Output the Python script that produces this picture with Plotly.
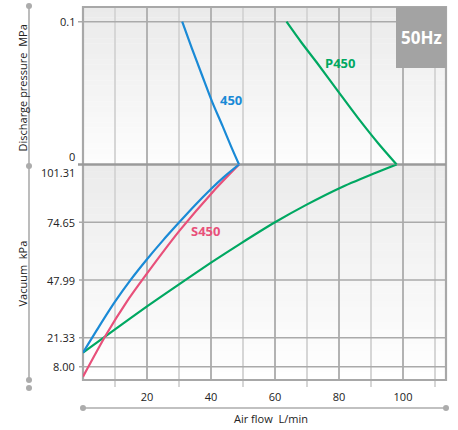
import plotly.graph_objects as go

# ---------------- data ----------------
flow_ticks = [20, 40, 60, 80, 100]
flow_minor = [10, 30, 50, 70, 90, 110]
vac_ticks = [101.31, 74.65, 47.99, 21.33, 8.00]
vac_tick_labels = ["101.31", "74.65", "47.99", "21.33", "8.00"]
pres_ticks = [0.1, 0]
pres_tick_labels = ["0.1", "0"]

# discharge pressure side (MPa)
m450_p_flow = [31.0, 34.0, 37.2, 40.4, 43.6, 46.3, 48.75]
m450_p_pres = [0.1, 0.0815, 0.0625, 0.0437, 0.027, 0.0125, 0.0]
p450_p_flow = [63.6, 68.2, 73.0, 79.9, 86.1, 92.3, 98.0]
p450_p_pres = [0.1, 0.0856, 0.0716, 0.0507, 0.0321, 0.0147, 0.0]

# vacuum side (kPa)
m450_v_flow = [0, 5, 10, 15, 20, 25, 30, 35, 40, 44, 48.75]
m450_v_kpa = [14.5, 26.5, 38, 48.3, 57.6, 66.3, 74.5, 82.5, 90, 95.5, 101.31]
s450_v_flow = [0, 7.4, 13.5, 19.9, 30.3, 40.7, 48.75]
s450_v_kpa = [3.4, 23.2, 37.6, 50.8, 71.0, 88.9, 101.31]
p450_v_flow = [0, 10, 20, 30, 40, 49.1, 60, 69.9, 80.3, 90.7, 98.0]
p450_v_kpa = [14.5, 25.2, 35.8, 46, 56, 64.7, 74.65, 82.8, 90.5, 97.0, 101.31]

BLUE = "#1a8ad6"
GREEN = "#00a862"
RED = "#e8507a"
FONT = "Open Sans"

# ---------------- geometry (pixels) ----------------
W, H = 458, 430
L, R, T, B = 83, 446, 7, 380
D = 164.5  # divider between panels
PW, PH = R - L, B - T


def xp(px):
    return (px - L) / PW


def yp(py):
    return (B - py) / PH


split = yp(D)

fig = go.Figure()


def curve(xs, ys, color, yaxis):
    fig.add_trace(go.Scatter(x=xs, y=ys, xaxis="x", yaxis=yaxis, mode="lines",
                             line=dict(color=color, width=2.2, shape="spline", smoothing=0.8),
                             hoverinfo="skip"))


curve(m450_p_flow, m450_p_pres, BLUE, "y2")
curve(p450_p_flow, p450_p_pres, GREEN, "y2")
curve(p450_v_flow, p450_v_kpa, GREEN, "y")
curve(s450_v_flow, s450_v_kpa, RED, "y")
curve(m450_v_flow, m450_v_kpa, BLUE, "y")

shapes = []


def hexmix(c1, c2, t):
    a = [int(c1[i:i + 2], 16) for i in (1, 3, 5)]
    b = [int(c2[i:i + 2], 16) for i in (1, 3, 5)]
    return "#" + "".join("%02x" % round(a[k] + (b[k] - a[k]) * t) for k in range(3))


# gradient backgrounds
N = 30
for (top, bot, ctop, cbot) in [(T, D, "#eaeaea", "#fdfdfd"), (D, B, "#ebebeb", "#ffffff")]:
    for i in range(N):
        y0 = top + (bot - top) * i / N
        y1 = top + (bot - top) * (i + 1) / N
        shapes.append(dict(type="rect", xref="paper", yref="paper", x0=0, x1=1,
                           y0=yp(y1), y1=yp(y0) + 0.001, line_width=0,
                           fillcolor=hexmix(ctop, cbot, (i + 0.5) / N), layer="below"))

# vertical grid lines
for v in flow_minor:
    shapes.append(dict(type="line", xref="x", yref="paper", x0=v, x1=v, y0=yp(387), y1=1,
                       line=dict(color="#d6d6d6", width=2), layer="between"))
for v in flow_ticks:
    shapes.append(dict(type="line", xref="x", yref="paper", x0=v, x1=v, y0=0, y1=1,
                       line=dict(color="#b3b3b3", width=2), layer="between"))

# horizontal grid lines
shapes.append(dict(type="line", xref="paper", yref="y2", x0=xp(78), x1=1, y0=0.1, y1=0.1,
                   line=dict(color="#aaaaaa", width=1.6), layer="between"))
for v in vac_ticks[1:]:
    shapes.append(dict(type="line", xref="paper", yref="y", x0=xp(79), x1=1, y0=v, y1=v,
                       line=dict(color="#aaaaaa", width=1.6), layer="between"))

# border
shapes.append(dict(type="rect", xref="paper", yref="paper", x0=0, x1=1, y0=0, y1=1,
                   line=dict(color="#a8a8a8", width=2.2), layer="between"))
# divider
shapes.append(dict(type="line", xref="paper", yref="paper", x0=xp(78), x1=1, y0=split, y1=split,
                   line=dict(color="#9a9a9a", width=2.6), layer="between"))

# 50Hz box
shapes.append(dict(type="rect", xref="paper", yref="paper", x0=xp(396), x1=xp(446.5),
                   y0=yp(68), y1=yp(7), line_width=0, fillcolor="#a3a3a3", layer="above"))

# left decorative axis lines with dots
DC = "#acacac"
shapes.append(dict(type="line", xref="paper", yref="paper", x0=xp(29), x1=xp(29),
                   y0=yp(6), y1=yp(166), line=dict(color=DC, width=1.6)))
shapes.append(dict(type="line", xref="paper", yref="paper", x0=xp(29), x1=xp(29),
                   y0=yp(167), y1=yp(380), line=dict(color=DC, width=1.6)))
shapes.append(dict(type="line", xref="paper", yref="paper", x0=xp(83), x1=xp(446),
                   y0=yp(408), y1=yp(408), line=dict(color=DC, width=1.6)))
for (dx, dy) in [(29, 6), (29, 166), (29, 380), (29, 388), (83, 408), (446, 408)]:
    shapes.append(dict(type="circle", xref="paper", yref="paper", xsizemode="pixel",
                       ysizemode="pixel", xanchor=xp(dx), yanchor=yp(dy),
                       x0=-3, x1=3, y0=-3, y1=3, fillcolor=DC, line_width=0))

ann = []
TF = dict(family=FONT, size=11, color="#222222")
# y tick labels
for v, t in zip(pres_ticks, pres_tick_labels):
    ann.append(dict(xref="paper", yref="y2", x=xp(77), y=v, text=t, showarrow=False,
                    xanchor="right", yanchor="middle", font=TF,
                    yshift=8 if v == 0 else 0))
for v, t in zip(vac_ticks, vac_tick_labels):
    ann.append(dict(xref="paper", yref="y", x=xp(77), y=v, text=t, showarrow=False,
                    xanchor="right", yanchor="middle", font=TF,
                    yshift=-8 if v == vac_ticks[0] else 0))

# axis titles
ann.append(dict(xref="paper", yref="paper", x=xp(21.5), y=yp(88), text="Discharge pressure  MPa",
                textangle=-90, showarrow=False, font=TF, xanchor="center", yanchor="middle"))
ann.append(dict(xref="paper", yref="paper", x=xp(21.5), y=yp(274), text="Vacuum  kPa",
                textangle=-90, showarrow=False, font=TF, xanchor="center", yanchor="middle"))
ann.append(dict(xref="paper", yref="paper", x=xp(271), y=yp(418), text="Air flow  L/min",
                showarrow=False, font=TF, xanchor="center", yanchor="middle"))

# curve labels
BF = dict(family=FONT, size=13, weight="bold")
ann.append(dict(xref="x", yref="y2", x=46.3, y=0.045, text="450", showarrow=False,
                font=dict(BF, color=BLUE), xanchor="center", yanchor="middle"))
ann.append(dict(xref="x", yref="y2", x=80.3, y=0.071, text="P450", showarrow=False,
                font=dict(BF, color=GREEN), xanchor="center", yanchor="middle"))
ann.append(dict(xref="x", yref="y", x=38.4, y=70.8, text="S450", showarrow=False,
                font=dict(BF, color=RED), xanchor="center", yanchor="middle"))
# 50Hz
ann.append(dict(xref="paper", yref="paper", x=xp(421), y=yp(37.5), text="50Hz", showarrow=False,
                font=dict(family=FONT, size=17, weight="bold", color="white"),
                xanchor="center", yanchor="middle"))

fig.update_layout(
    width=W, height=H,
    margin=dict(l=L, r=W - R, t=T, b=H - B),
    paper_bgcolor="white", plot_bgcolor="white",
    showlegend=False,
    shapes=shapes, annotations=ann,
    xaxis=dict(range=[0, (R - L) / 3.2], showgrid=False, zeroline=False, showline=False,
               tickmode="array", tickvals=flow_ticks, ticks="",
               tickfont=dict(family=FONT, size=11, color="#222222"), ticklabelstandoff=9),
    yaxis=dict(domain=[0, split], range=[8 - (B - 366.7) / ((366.7 - D) / 93.31), 101.31],
               showgrid=False, zeroline=False, showline=False, showticklabels=False, ticks=""),
    yaxis2=dict(domain=[split, 1], range=[0, (D - T) / ((D - 21.7) / 0.1)],
                showgrid=False, zeroline=False, showline=False, showticklabels=False, ticks=""),
)

fig.write_html("out.html", config={"displayModeBar": False},
               post_script="document.body.style.margin='0px';")
